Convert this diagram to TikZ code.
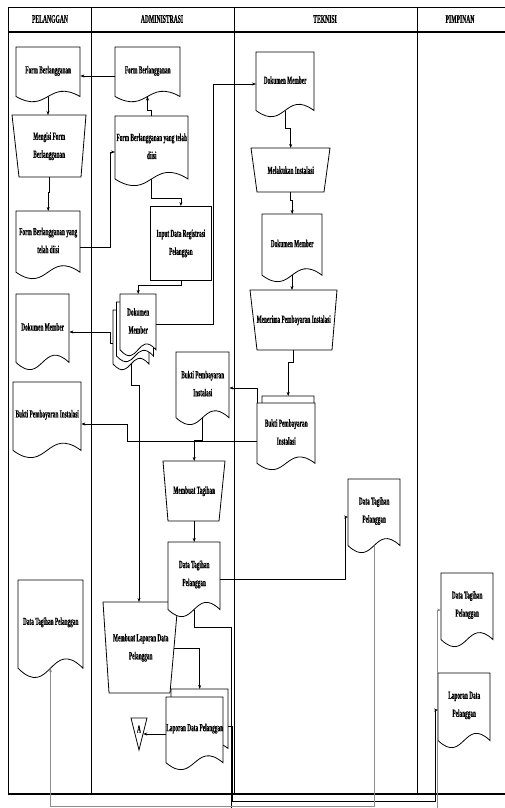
\documentclass[tikz,border=0pt]{standalone}
\usepackage{fontspec}
\setmainfont{Liberation Serif}[FakeStretch=0.49, BoldFeatures={FakeBold=0.4}]
\usetikzlibrary{arrows.meta,calc}
\tikzset{
  shp/.style={draw=black,line width=0.8pt,fill=white},
  lbl/.style={inner sep=0pt,align=center,font=\fontsize{10.8}{18}\selectfont\bfseries},
  hdr/.style={inner sep=0pt,font=\fontsize{11.5}{12}\selectfont\bfseries},
  conn/.style={draw=black,line width=0.6pt},
  arr/.style={conn,-{Stealth[length=4pt,width=3pt]}},
  gconn/.style={draw=black!45,line width=0.6pt},
  garr/.style={gconn,-{Stealth[length=4pt,width=3pt]}},
  frame/.style={draw=black,line width=0.8pt},
}
\newcommand{\docshape}[6]{%
  \draw[shp] (#2,#3) -- ({#2+#4},#3) -- ({#2+#4},{#3+0.9*#5})
    .. controls ({#2+0.5*#4},{#3+0.57*#5}) and ({#2+0.5*#4},{#3+1.23*#5}) .. (#2,{#3+0.9*#5}) -- cycle;
  \node[lbl,minimum width={#4*1pt},minimum height={0.86*#5*1pt},anchor=north west] (#1) at (#2,#3) {#6};
  \coordinate (#1-b) at ({#2+0.5*#4},{#3+0.9*#5});
}
\newcommand{\manop}[8]{%
  \draw[shp] (#2,#3) -- (#4,#3) -- ({#4-#7},#5) -- ({#2+#6},#5) -- cycle;
  \node[lbl,minimum width={(#4-#2)*1pt},minimum height={(#5-#3)*1pt},anchor=north west] (#1) at (#2,#3) {#8};
}
\begin{document}
\begin{tikzpicture}[x=1pt,y=-1pt]
\clip (0,0) rectangle (505,808);
\fill[white] (0,0) rectangle (505,808);
% frame
\draw[frame] (505,7) -- (8,7) -- (8,794);
\draw[line width=1.2pt] (8,794) -- (505,794);
\draw[line width=1.6pt] (8,32) -- (505,32);
\draw[frame] (91,7) -- (91,794);
\draw[frame] (234,7) -- (234,794);
\draw[frame] (417,7) -- (417,794);
\node[hdr] (h1) at (50,19) {PELANGGAN};
\node[hdr] (h2) at (162,19) {ADMINISTRASI};
\node[hdr] (h3) at (325,19) {TEKNISI};
\node[hdr] (h4) at (460,19) {PIMPINAN};
% PELANGGAN
\docshape{d1}{16}{47}{64}{55}{Form Berlangganan}
\manop{m1}{12}{115}{86}{177}{7}{5}{Mengisi Form\\Berlangganan}
\docshape{d3}{16}{211}{64}{68}{Form Berlangganan yang\\telah diisi}
\docshape{d4}{16}{294}{53}{76}{Dokumen Member}
\docshape{d5}{13}{382}{68}{76}{Bukti Pembayaran Instalasi}
\docshape{d6}{18}{580}{65}{98}{Data Tagihan Pelanggan}
% ADMINISTRASI
\docshape{d7}{115}{47}{65}{55}{Form Berlangganan}
\docshape{d8}{115}{116}{73}{70}{Form Berlangganan yang telah\\diisi}
\node[shp,lbl,minimum width=61pt,minimum height=74pt,anchor=north west] (r9) at (150,206) {Input Data Registrasi\\Pelanggan};
\docshape{md10c}{113}{310}{36}{60}{}
\docshape{md10b}{116.5}{302}{37}{60}{}
\docshape{md10}{120}{294}{36}{62}{Dokumen\\Member}
\docshape{d11}{176}{352}{53}{73}{Bukti Pembayaran\\Instalasi}
\manop{m17}{163}{461}{225}{521}{5}{6}{Membuat Tagihan}
\manop{m20}{103}{602}{178}{693}{6}{8}{Membuat Laporan Data\\Pelanggan}
\docshape{d18}{168}{542}{52}{75}{Data Tagihan\\Pelanggan}
\docshape{md21b}{171}{689}{57}{66}{}
\docshape{md21}{166}{697}{57}{73}{Laporan Data Pelanggan}
\draw[shp] (131,718) -- (147,718) -- (139,750) -- cycle;
\node[lbl,minimum width=8pt] (t22) at (139,729) {A};
% TEKNISI
\docshape{d12}{256}{52}{58}{65}{Dokumen Member}
\manop{m13}{251}{148}{330}{192}{6}{6}{Melakukan Instalasi}
\docshape{d14}{262}{214}{60}{68}{Dokumen Member}
\manop{m15}{250}{290}{337}{350}{7}{5}{Menerima Pembayaran Instalasi}
\docshape{md16b}{262}{396}{52}{60}{}
\docshape{md16}{257}{403}{58}{67}{Bukti Pembayaran\\Instalasi}
\docshape{d19}{348}{479}{52}{74}{Data Tagihan\\Pelanggan}
% PIMPINAN
\docshape{d23}{441}{573}{52}{74}{Data Tagihan\\Pelanggan}
\docshape{d24}{438}{673}{52}{75}{Laporan Data\\Pelanggan}
% connectors
\draw[arr] (d7.west |- 0,76) -- (d1.east |- 0,76);
\draw[arr] (d1-b) -- (d1-b |- m1.north);
\draw[arr] (m1.south) -- (m1.south |- 0,192) -| (d3.north);
\draw[arr] (d3.east |- 0,247) -- (110,247) -- (110,152) -- (d8.west |- 0,152);
\draw[arr] (d8.north) -- (d8.north |- 0,110) -| (d7-b);
\draw[arr] (d8-b) -- (d8-b |- 0,198) -| (r9.north);
\draw[arr] (r9.south) -- (r9.south |- 0,285) -| (md10.north);
\draw[arr] (md10.east |- 0,324) -- (213,324) -- (213,84) -- (d12.west |- 0,84);
\draw[arr] (md10c.west |- 0,343) -- (110,343) -- (110,332) -- (d4.east |- 0,332);
\draw[arr] (d12-b) -- (d12-b |- 0,128) -| (m13.north);
\draw[arr] (m13.south) -- (m13.south |- 0,200) -| (d14.north);
\draw[arr] (d14-b) -- (d14-b |- m15.north);
\draw[arr] (m15.south) -- (m15.south |- 0,362) -| (md16b.north);
\draw[arr] (md16.north west) -- (md16.north west |- 0,388) -- (d11.east |- 0,388);
\draw[arr] (md16.west |- 0,441) -- (127,441) -- (127,424) -- (d5.east |- 0,424);
\draw[arr] (md10c-b) -- (md10c-b |- 0,385) -- (139,385) -- (m20.north -| 139,0);
\draw[arr] (d11-b) -- (d11-b |- 0,440) -| (m17.north);
\draw[arr] (m17.south) -- (m17.south |- d18.north);
\draw[arr] (d18.east |- 0,579) -- (345,579) -- (345,517) -- (d19.west |- 0,517);
\coordinate (off1) at (231,815);
\draw[conn] (d18-b) -- (d18-b |- 0,627) -- (231,627) -- (off1);
\draw[garr] (off1) -- (437,815) -- (437,610) -- (d23.west |- 0,610);
\draw[arr] (md21b.east |- 0,726) -- (232,726) -- (232,801) -- (435,801) -- (435,710) -- (d24.west |- 0,710);
\draw[garr] (d19-b) -- (d19-b |- 0,806) -| (d6-b);
\draw[arr] ($(m20.east |- 0,648)+(-4,0)$) -| (md21b.north);
\draw[arr] (md21.west |- 0,734) -- (t22.east |- 0,734);
\end{tikzpicture}
\end{document}
